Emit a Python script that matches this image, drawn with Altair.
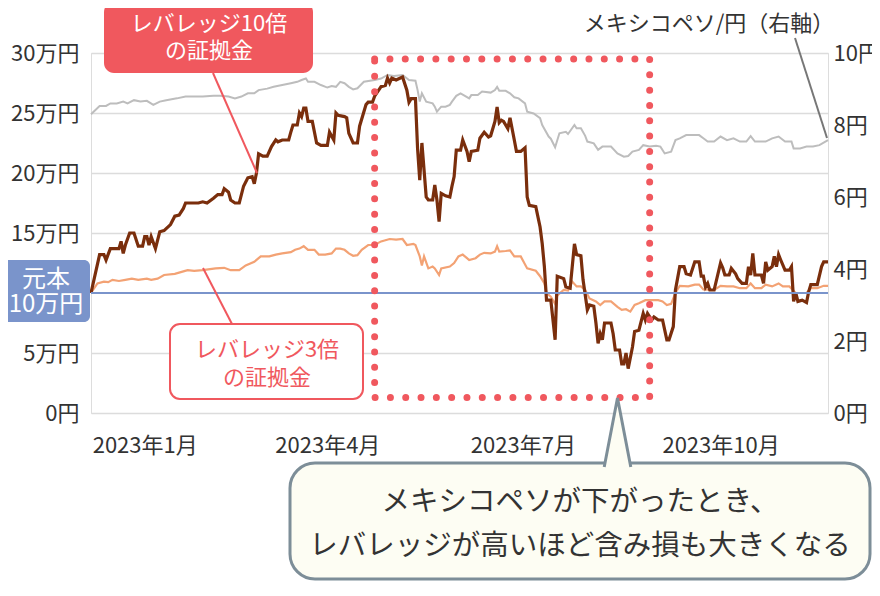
import altair as alt
import pandas as pd

FONT = "Noto Sans CJK JP"

# ---------------- data ----------------
lev10_dates = [
    "2022-12-12", "2022-12-16", "2022-12-18", "2022-12-19", "2022-12-21", "2022-12-25", "2022-12-26",
    "2022-12-27", "2022-12-28", "2022-12-30", "2023-01-01", "2023-01-03", "2023-01-05", "2023-01-06",
    "2023-01-07", "2023-01-08", "2023-01-09", "2023-01-11", "2023-01-12", "2023-01-13", "2023-01-15",
    "2023-01-18", "2023-01-20", "2023-01-22", "2023-01-24", "2023-01-25", "2023-01-28", "2023-01-31",
    "2023-02-02", "2023-02-04", "2023-02-07", "2023-02-09", "2023-02-11", "2023-02-12", "2023-02-14",
    "2023-02-15", "2023-02-17", "2023-02-19", "2023-02-21", "2023-02-23", "2023-02-25", "2023-02-26",
    "2023-02-27", "2023-02-28", "2023-03-02", "2023-03-04", "2023-03-06", "2023-03-08", "2023-03-09",
    "2023-03-11", "2023-03-14", "2023-03-15", "2023-03-16", "2023-03-18", "2023-03-19", "2023-03-20",
    "2023-03-21", "2023-03-22", "2023-03-23", "2023-03-25", "2023-03-27", "2023-03-29", "2023-04-01",
    "2023-04-02", "2023-04-04", "2023-04-05", "2023-04-06", "2023-04-09", "2023-04-10", "2023-04-11",
    "2023-04-13", "2023-04-15", "2023-04-16", "2023-04-19", "2023-04-20", "2023-04-22", "2023-04-23",
    "2023-04-26", "2023-04-28", "2023-04-29", "2023-04-30", "2023-05-01", "2023-05-03", "2023-05-06",
    "2023-05-08", "2023-05-09", "2023-05-10", "2023-05-12", "2023-05-13", "2023-05-14", "2023-05-15",
    "2023-05-17", "2023-05-18", "2023-05-20", "2023-05-21", "2023-05-22", "2023-05-23", "2023-05-24",
    "2023-05-26", "2023-05-28", "2023-05-29", "2023-05-30", "2023-05-31", "2023-06-02", "2023-06-03",
    "2023-06-05", "2023-06-06", "2023-06-07", "2023-06-10", "2023-06-11", "2023-06-13", "2023-06-15",
    "2023-06-16", "2023-06-18", "2023-06-19", "2023-06-20", "2023-06-21", "2023-06-22", "2023-06-24",
    "2023-06-25", "2023-06-27", "2023-06-28", "2023-06-30", "2023-07-02", "2023-07-03", "2023-07-04",
    "2023-07-07", "2023-07-09", "2023-07-10", "2023-07-11", "2023-07-12", "2023-07-14", "2023-07-16",
    "2023-07-17", "2023-07-20", "2023-07-21", "2023-07-23", "2023-07-25", "2023-07-26", "2023-07-28",
    "2023-07-29", "2023-07-31", "2023-08-01", "2023-08-03", "2023-08-04", "2023-08-05", "2023-08-06",
    "2023-08-07", "2023-08-08", "2023-08-11", "2023-08-12", "2023-08-13", "2023-08-15", "2023-08-16",
    "2023-08-17", "2023-08-18", "2023-08-19", "2023-08-21", "2023-08-22", "2023-08-24", "2023-08-26",
    "2023-08-27", "2023-08-28", "2023-08-30", "2023-08-31", "2023-09-02", "2023-09-04", "2023-09-06",
    "2023-09-07", "2023-09-09", "2023-09-10", "2023-09-12", "2023-09-14", "2023-09-15", "2023-09-17",
    "2023-09-19", "2023-09-21", "2023-09-22", "2023-09-23", "2023-09-24", "2023-09-25", "2023-09-26",
    "2023-09-28", "2023-10-01", "2023-10-02", "2023-10-03", "2023-10-05", "2023-10-06", "2023-10-08",
    "2023-10-09", "2023-10-11", "2023-10-13", "2023-10-14", "2023-10-15", "2023-10-16", "2023-10-17",
    "2023-10-20", "2023-10-21", "2023-10-22", "2023-10-23", "2023-10-25", "2023-10-26", "2023-10-27",
    "2023-10-28", "2023-10-29", "2023-10-31", "2023-11-02", "2023-11-03", "2023-11-04", "2023-11-05",
    "2023-11-06", "2023-11-08", "2023-11-10", "2023-11-11", "2023-11-12", "2023-11-15", "2023-11-17",
    "2023-11-18", "2023-11-20",
]
lev10_values = [  # 万円
    10.0, 13.2, 13.2, 12.75, 13.7, 13.7, 14.3,
    13.3, 14.0, 15.0, 15.0, 13.9, 13.9, 14.7,
    14.7, 14.0, 14.7, 13.7, 14.4, 15.1, 15.2,
    15.7, 16.4, 16.5, 17.05, 17.5, 17.5, 17.5,
    17.6, 17.5, 17.9, 18.2, 18.2, 18.7, 18.4,
    17.75, 17.5, 17.5, 18.9, 19.6, 19.7, 19.1,
    20.0, 21.6, 21.4, 21.4, 22.2, 22.75, 22.6,
    22.75, 22.75, 23.4, 24.0, 24.0, 25.0, 24.7,
    25.4, 25.4, 24.3, 24.3, 22.5, 22.3, 22.3,
    23.4, 22.75, 25.0, 24.8, 24.7, 24.6, 23.3,
    22.5, 22.5, 23.9, 25.7, 25.9, 25.9, 26.4,
    27.2, 27.3, 27.9, 27.5, 27.9, 27.75, 28.0,
    26.9, 25.9, 26.2, 26.2, 22.0, 19.4, 22.5,
    18.0, 17.75, 17.75, 19.0, 17.75, 15.95, 18.3,
    18.1, 18.0, 18.9, 19.7, 21.9, 21.9, 22.75,
    21.8, 20.95, 21.8, 21.9, 22.9, 23.4, 23.0,
    23.1, 24.3, 25.5, 24.2, 24.4, 24.3, 23.7,
    24.6, 22.75, 21.8, 21.8, 22.1, 18.0, 17.3,
    17.2, 15.5, 14.1, 12.2, 9.4, 9.4, 6.1,
    11.4, 11.2, 10.5, 10.4, 14.1, 13.2, 13.1,
    11.1, 8.6, 9.0, 8.9, 7.5, 5.8, 6.6,
    6.1, 7.5, 7.5, 6.6, 5.25, 5.25, 4.1,
    4.1, 5.0, 3.7, 5.5, 6.8, 6.9, 8.3,
    7.75, 8.3, 7.75, 8.0, 7.75, 7.75, 6.1,
    6.1, 7.2, 10.25, 12.2, 12.2, 11.6, 11.5,
    12.6, 12.6, 11.4, 11.4, 10.5, 10.8, 10.25,
    10.25, 12.5, 12.1, 11.5, 11.5, 12.05, 11.6,
    11.2, 10.8, 10.8, 12.2, 11.5, 13.3, 11.5,
    11.5, 10.8, 12.6, 11.9, 12.2, 13.05, 12.2,
    13.2, 12.75, 11.9, 11.9, 12.2, 9.3, 10.0,
    9.3, 9.4, 9.2, 10.1, 10.7, 10.7, 12.2,
    12.6, 12.6,
]

lev3_dates = [
    "2022-12-12", "2022-12-15", "2022-12-18", "2022-12-20", "2022-12-22", "2022-12-25", "2022-12-28",
    "2022-12-31", "2023-01-03", "2023-01-07", "2023-01-09", "2023-01-12", "2023-01-15", "2023-01-20",
    "2023-01-24", "2023-01-26", "2023-01-29", "2023-02-02", "2023-02-08", "2023-02-12", "2023-02-15",
    "2023-02-19", "2023-02-22", "2023-02-26", "2023-03-01", "2023-03-05", "2023-03-08", "2023-03-11",
    "2023-03-15", "2023-03-17", "2023-03-19", "2023-03-21", "2023-03-23", "2023-03-26", "2023-03-28",
    "2023-03-31", "2023-04-03", "2023-04-05", "2023-04-07", "2023-04-09", "2023-04-11", "2023-04-13",
    "2023-04-15", "2023-04-17", "2023-04-20", "2023-04-23", "2023-04-26", "2023-04-30", "2023-05-03",
    "2023-05-06", "2023-05-08", "2023-05-11", "2023-05-12", "2023-05-14", "2023-05-15", "2023-05-16",
    "2023-05-18", "2023-05-20", "2023-05-21", "2023-05-23", "2023-05-24", "2023-05-28", "2023-05-30",
    "2023-06-01", "2023-06-03", "2023-06-05", "2023-06-06", "2023-06-09", "2023-06-11", "2023-06-13",
    "2023-06-16", "2023-06-18", "2023-06-19", "2023-06-20", "2023-06-23", "2023-06-25", "2023-06-27",
    "2023-06-30", "2023-07-03", "2023-07-07", "2023-07-09", "2023-07-11", "2023-07-12", "2023-07-14",
    "2023-07-16", "2023-07-17", "2023-07-20", "2023-07-22", "2023-07-24", "2023-07-26", "2023-07-28",
    "2023-07-30", "2023-08-01", "2023-08-04", "2023-08-06", "2023-08-08", "2023-08-11", "2023-08-14",
    "2023-08-16", "2023-08-18", "2023-08-20", "2023-08-22", "2023-08-24", "2023-08-27", "2023-08-30",
    "2023-09-02", "2023-09-04", "2023-09-06", "2023-09-08", "2023-09-10", "2023-09-12", "2023-09-16",
    "2023-09-19", "2023-09-21", "2023-09-23", "2023-09-28", "2023-10-01", "2023-10-04", "2023-10-07",
    "2023-10-10", "2023-10-13", "2023-10-15", "2023-10-17", "2023-10-20", "2023-10-22", "2023-10-25",
    "2023-10-28", "2023-10-30", "2023-11-02", "2023-11-05", "2023-11-07", "2023-11-10", "2023-11-12",
    "2023-11-15", "2023-11-18", "2023-11-20",
]
lev3_values = [  # 万円
    10.0, 10.8, 10.95, 10.9, 11.1, 11.0, 11.1,
    11.2, 11.1, 11.2, 11.1, 11.2, 11.5, 11.6,
    11.8, 11.9, 11.85, 11.9, 12.05, 12.1, 11.9,
    11.9, 12.3, 12.6, 13.05, 13.05, 13.2, 13.3,
    13.4, 13.6, 13.7, 13.9, 13.6, 13.6, 13.2,
    13.2, 13.3, 13.7, 13.7, 13.6, 13.3, 13.1,
    13.15, 13.6, 14.0, 14.0, 14.3, 14.5, 14.45,
    14.5, 14.0, 14.1, 14.0, 13.05, 12.3, 13.05,
    12.05, 12.2, 12.05, 11.5, 12.05, 12.2, 12.5,
    13.05, 13.2, 12.9, 12.75, 12.9, 13.2, 13.35,
    13.3, 13.45, 13.9, 13.45, 13.5, 13.55, 13.05,
    13.05, 12.05, 11.85, 11.4, 10.8, 10.0, 9.7,
    9.1, 9.8, 10.25, 10.2, 10.95, 10.55, 10.55,
    10.25, 9.55, 9.3, 9.0, 9.3, 9.3, 8.85,
    8.6, 8.65, 8.45, 9.0, 9.15, 9.4, 9.4,
    9.4, 9.3, 9.0, 9.1, 10.0, 10.6, 10.55,
    10.7, 10.7, 10.3, 10.25, 10.6, 10.55, 10.55,
    10.4, 10.4, 10.8, 10.4, 10.4, 10.7, 10.55,
    10.8, 10.55, 10.55, 10.0, 10.0, 10.0, 10.4,
    10.4, 10.6, 10.6,
]

mxn_dates = [
    "2022-12-12", "2022-12-16", "2022-12-19", "2022-12-21", "2022-12-24", "2022-12-27", "2022-12-29",
    "2023-01-01", "2023-01-04", "2023-01-07", "2023-01-10", "2023-01-13", "2023-01-16", "2023-01-21",
    "2023-01-25", "2023-01-29", "2023-02-02", "2023-02-07", "2023-02-10", "2023-02-14", "2023-02-17",
    "2023-02-20", "2023-02-23", "2023-02-26", "2023-02-28", "2023-03-04", "2023-03-07", "2023-03-11",
    "2023-03-15", "2023-03-18", "2023-03-20", "2023-03-22", "2023-03-23", "2023-03-26", "2023-03-29",
    "2023-04-01", "2023-04-03", "2023-04-05", "2023-04-07", "2023-04-09", "2023-04-11", "2023-04-13",
    "2023-04-15", "2023-04-18", "2023-04-23", "2023-04-26", "2023-04-29", "2023-05-02", "2023-05-06",
    "2023-05-09", "2023-05-12", "2023-05-13", "2023-05-14", "2023-05-15", "2023-05-17", "2023-05-20",
    "2023-05-21", "2023-05-22", "2023-05-24", "2023-05-26", "2023-05-28", "2023-05-29", "2023-05-31",
    "2023-06-02", "2023-06-04", "2023-06-06", "2023-06-07", "2023-06-10", "2023-06-12", "2023-06-16",
    "2023-06-18", "2023-06-19", "2023-06-20", "2023-06-23", "2023-06-25", "2023-06-27", "2023-06-29",
    "2023-07-02", "2023-07-03", "2023-07-06", "2023-07-09", "2023-07-10", "2023-07-13", "2023-07-14",
    "2023-07-16", "2023-07-18", "2023-07-21", "2023-07-22", "2023-07-25", "2023-07-26", "2023-07-28",
    "2023-07-30", "2023-07-31", "2023-08-03", "2023-08-05", "2023-08-07", "2023-08-08", "2023-08-11",
    "2023-08-14", "2023-08-17", "2023-08-19", "2023-08-21", "2023-08-24", "2023-08-26", "2023-08-29",
    "2023-09-01", "2023-09-03", "2023-09-05", "2023-09-08", "2023-09-10", "2023-09-12", "2023-09-15",
    "2023-09-18", "2023-09-21", "2023-09-23", "2023-09-25", "2023-09-28", "2023-10-01", "2023-10-04",
    "2023-10-07", "2023-10-10", "2023-10-13", "2023-10-15", "2023-10-17", "2023-10-22", "2023-10-25",
    "2023-10-28", "2023-10-31", "2023-11-03", "2023-11-04", "2023-11-07", "2023-11-10", "2023-11-13",
    "2023-11-16", "2023-11-20",
]
mxn_values = [  # 円 per peso
    8.30, 8.53, 8.53, 8.60, 8.60, 8.65, 8.60,
    8.69, 8.65, 8.67, 8.56, 8.65, 8.69, 8.74,
    8.79, 8.79, 8.79, 8.81, 8.81, 8.79, 8.74,
    8.79, 8.88, 8.88, 8.97, 9.01, 9.06, 9.11,
    9.16, 9.20, 9.25, 9.29, 9.20, 9.20, 9.11,
    9.04, 9.08, 9.06, 9.20, 9.16, 9.06, 8.99,
    9.02, 9.20, 9.25, 9.29, 9.39, 9.36, 9.39,
    9.25, 9.23, 8.97, 8.65, 8.88, 8.65, 8.60,
    8.51, 8.37, 8.51, 8.51, 8.56, 8.65, 8.81,
    8.88, 8.81, 8.74, 8.83, 8.83, 8.93, 8.90,
    8.97, 9.06, 8.95, 8.95, 8.88, 8.77, 8.74,
    8.60, 8.37, 8.32, 8.19, 8.00, 7.68, 7.62,
    7.38, 7.77, 7.81, 7.75, 8.00, 7.91, 7.91,
    7.70, 7.54, 7.49, 7.31, 7.40, 7.40, 7.40,
    7.21, 7.12, 7.14, 7.26, 7.31, 7.44, 7.40,
    7.42, 7.40, 7.21, 7.26, 7.58, 7.63, 7.72,
    7.72, 7.72, 7.63, 7.54, 7.54, 7.68, 7.58,
    7.63, 7.54, 7.54, 7.69, 7.54, 7.54, 7.63,
    7.68, 7.54, 7.54, 7.35, 7.35, 7.40, 7.40,
    7.44, 7.58,
]

principal = 10  # 万円

x_domain = ["2022-12-12", "2023-11-20"]
x_tick_dates = ["2023-01-06", "2023-04-01", "2023-07-01", "2023-10-01"]
x_tick_labels = ["2023年1月", "2023年4月", "2023年7月", "2023年10月"]

y_left_ticks = [0, 5, 15, 20, 25, 30]
y_left_labels = ["0円", "5万円", "15万円", "20万円", "25万円", "30万円"]
y_right_ticks = [0, 2, 4, 6, 8, 10]
y_right_labels = ["0円", "2円", "4円", "6円", "8円", "10円"]

highlight_dates = ["2023-04-23", "2023-08-29"]
highlight_values = [29.5, 1.3]

label_lev10 = "レバレッジ10倍\nの証拠金"
label_lev3 = "レバレッジ3倍\nの証拠金"
label_principal = "元本\n10万円"
label_mxn = "メキシコペソ/円（右軸）"
bubble_text = "メキシコペソが下がったとき、\nレバレッジが高いほど含み損も大きくなる"

# ---------------- styling ----------------
BROWN = "#7A2E0C"
ORANGE = "#F3A274"
GREY = "#BDBDBD"
BLUE = "#7A94CB"
RED = "#F0585E"
TXT = "#333333"
CREAM = "#FDFDF3"
BUB = "#7D8E98"

W, H = 737, 360
ORX, ORY = 91, 53  # page position of plot origin


def X(px):
    return px - ORX


def Y(py):
    return py - ORY


def dt(s):
    t = pd.Timestamp(s)
    return alt.DateTime(year=t.year, month=t.month, date=t.day)


def ternary(field, keys, labels, default="''"):
    expr = default
    for k, l in reversed(list(zip(keys, labels))):
        expr = f"{field} == {k} ? '{l}' : ({expr})"
    return expr


x_months = [pd.Timestamp(d).month - 1 for d in x_tick_dates]

x_enc = alt.X(
    "date:T",
    scale=alt.Scale(domain=[dt(x_domain[0]), dt(x_domain[1])]),
    axis=alt.Axis(
        values=[dt(d) for d in x_tick_dates],
        labelExpr=ternary("month(datum.value)", x_months, x_tick_labels),
        title=None, grid=False, domain=False, ticks=False,
        labelFontSize=22, labelColor=TXT, labelFont=FONT, labelPadding=22,
        labelFlush=False, labelOverlap=False,
    ),
)

left_axis = alt.Axis(
    values=y_left_ticks,
    labelExpr=ternary("datum.value", y_left_ticks, y_left_labels),
    title=None, grid=True, gridColor="#DCDCDC", gridWidth=1.5,
    domain=False, ticks=False, labelFontSize=22, labelColor=TXT, labelFont=FONT,
    labelPadding=12, labelFlush=False, labelOverlap=False,
)
left_scale = alt.Scale(domain=[0, 30], nice=False, zero=True)

right_axis = alt.Axis(
    orient="right",
    values=y_right_ticks,
    labelExpr=ternary("datum.value", y_right_ticks, y_right_labels),
    title=None, grid=False, domain=False, ticks=False,
    labelFontSize=22, labelColor=TXT, labelFont=FONT, labelPadding=5,
    labelFlush=False, labelOverlap=False,
)

df10 = pd.DataFrame({"date": lev10_dates, "value": lev10_values})
df3 = pd.DataFrame({"date": lev3_dates, "value": lev3_values})
dfm = pd.DataFrame({"date": mxn_dates, "value": mxn_values})
dfp = pd.DataFrame({"value": [principal]})
dfh = pd.DataFrame({"date": [highlight_dates[0]], "date2": [highlight_dates[1]],
                    "value": [highlight_values[0]], "value2": [highlight_values[1]]})

y_left = alt.Y("value:Q", scale=left_scale, axis=left_axis)

mxn_line = alt.Chart(dfm).mark_line(color=GREY, strokeWidth=2).encode(
    x=x_enc,
    y=alt.Y("value:Q", scale=alt.Scale(domain=[0, 10], nice=False), axis=right_axis),
)

lev3_line = alt.Chart(df3).mark_line(color=ORANGE, strokeWidth=2.2).encode(x=x_enc, y=y_left)
lev10_line = alt.Chart(df10).mark_line(color=BROWN, strokeWidth=3.2).encode(x=x_enc, y=y_left)
principal_rule = alt.Chart(dfp).mark_rule(color=BLUE, strokeWidth=2).encode(y=y_left)
highlight = alt.Chart(dfh).mark_rect(
    fillOpacity=0, stroke=RED, strokeWidth=7, strokeDash=[0.01, 15.3], strokeCap="round"
).encode(x=x_enc, x2="date2:T", y=y_left, y2="value2:Q")

left_layer = alt.layer(lev3_line, lev10_line, principal_rule, highlight)

one = alt.Data(values=[{"k": 0}])


def box(x0, y0, x1, y1, fill, stroke=None, sw=0, r=8):
    kw = dict(fill=fill, cornerRadius=r)
    if stroke:
        kw.update(stroke=stroke, strokeWidth=sw)
    return alt.Chart(one).mark_rect(**kw).encode(
        x=alt.value(X(x0)), x2=alt.value(X(x1)), y=alt.value(Y(y0)), y2=alt.value(Y(y1)))


def seg(x0, y0, x1, y1, color, w=2):
    return alt.Chart(one).mark_rule(color=color, strokeWidth=w).encode(
        x=alt.value(X(x0)), x2=alt.value(X(x1)), y=alt.value(Y(y0)), y2=alt.value(Y(y1)))


def txt(s, x, y, size, color, lh=None, align="center"):
    # y is the centre of the first line
    kw = dict(text=s, fontSize=size, color=color, font=FONT, align=align, baseline="middle",
              lineBreak="\n")
    if lh:
        kw["lineHeight"] = lh
    return alt.Chart(one).mark_text(**kw).encode(x=alt.value(X(x)), y=alt.value(Y(y)))


# speech-bubble geometry (page px)
BUB_L, BUB_R = 290, 870
BUB_TOP, BUB_BOT = 463, 579
APEX_X, APEX_Y = 617.5, 398
TAIL_BASE = BUB_TOP + 4
tail_h = TAIL_BASE - APEX_Y

tail = alt.Chart(one).mark_point(
    shape="M-0.385,1L0,-1L0.385,1", size=tail_h * tail_h, filled=True, fill=CREAM, fillOpacity=1,
    stroke=BUB, strokeWidth=3, opacity=1, strokeJoin="miter",
).encode(x=alt.value(X(APEX_X)), y=alt.value(Y((APEX_Y + TAIL_BASE) / 2)))

annotations = [
    # leader lines
    seg(213, 73, 257, 173, RED),
    seg(232, 324, 203, 268, RED),
    seg(795, 38, 827, 138, "#777777"),
    # 10x box
    box(104, 2, 313, 73, RED, r=10),
    txt(label_lev10, 209, 23.5, 22, "white", lh=27),
    # 3x box
    box(170, 324, 363, 399, "white", RED, 2, r=10),
    txt(label_lev3, 267, 350, 22, RED, lh=28),
    # principal box
    box(0, 260, 90, 322, BLUE, r=6),
    txt(label_principal, 46, 280, 24, "white", lh=25),
    # right axis title
    txt(label_mxn, 709, 24, 22, TXT),
    # speech bubble
    box(BUB_L, BUB_TOP, BUB_R, BUB_BOT, CREAM, BUB, 3, r=25),
    tail,
    txt(bubble_text, (BUB_L + BUB_R) / 2, 501.5, 28.5, TXT, lh=44.5),
]

chart = (
    alt.layer(mxn_line, left_layer, *annotations)
    .resolve_scale(y="independent")
    .properties(
        width=W, height=H, autosize="none",
        padding={"left": 83, "top": 45, "right": 44, "bottom": 169},
    )
    .configure_view(stroke=None)
    .configure(font=FONT)
)

chart.save("out.html", embed_options={"renderer": "svg", "actions": False})
